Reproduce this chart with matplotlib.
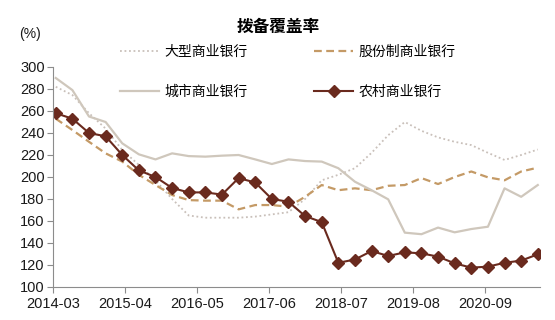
import matplotlib
matplotlib.use("Agg")
import matplotlib.pyplot as plt
import numpy as np

plt.rcParams['font.family'] = ['Liberation Sans', 'Noto Sans CJK SC', 'DejaVu Sans']

tick_labels = ["2014-03", "2015-04", "2016-05", "2017-06", "2018-07", "2019-08", "2020-09"]
series_names = ["大型商业银行", "股份制商业银行", "城市商业银行", "农村商业银行"]

large_banks = [282, 274.5, 258, 244, 224.5, 211, 197, 180, 165, 163, 163, 163, 164, 166, 168,
               180, 197, 202, 208, 222, 238, 250, 242, 236, 232, 229, 222, 215.5, 220, 225]
joint_stock = [253, 242.7, 232, 221.5, 214, 202, 192.7, 183.6, 179, 178.5, 178.5, 170.6, 174.5, 174.5, 173,
               182, 192.7, 188, 189.7, 188, 192, 192.7, 199, 193.6, 200, 205, 199.7, 197, 205, 208.5]
city_banks = [290, 279, 255, 250, 230.6, 220.6, 216, 221.5, 219, 218.5, 219.4, 220, 216, 211.8, 216,
              214.5, 214, 208, 195.7, 188, 179.7, 149.4, 148, 154, 149.7, 152.7, 154.8, 189.7, 182, 192.7]
rural_banks = [258, 253, 240, 237, 220, 206, 200, 190, 186, 186, 184, 199, 195, 180, 177.5,
               164.5, 159, 122, 125, 132.7, 128.2, 131.5, 130.6, 127.6, 121.5, 117.6, 118.5, 122, 124, 129.7]

# quarterly points, month offsets from 2014-03
x = np.arange(len(rural_banks)) * 3 + 0.5
tick_pos = np.arange(len(tick_labels)) * 13

fig = plt.figure(figsize=(5.55, 3.2), dpi=100)
ax = fig.add_axes([53/555, 1-287/320, (540-53)/555, (287-67)/320])

c_large = "#c9c0ba"
c_joint = "#c49a66"
c_city = "#cfc7bc"
c_rural = "#6a2a1e"

l1, = ax.plot(x, large_banks, linestyle=(0, (1, 1.5)), color=c_large, lw=1.3)
l2, = ax.plot(x, joint_stock, linestyle=(0, (3.5, 2)), color=c_joint, lw=1.6)
l3, = ax.plot(x, city_banks, linestyle='-', color=c_city, lw=1.6)
l4, = ax.plot(x, rural_banks, linestyle='-', color=c_rural, lw=1.5,
              marker='D', markersize=6.3, markerfacecolor=c_rural, markeredgecolor=c_rural)

ax.set_xlim(0, 87.9)
ax.set_ylim(100, 300)
ax.set_yticks(np.arange(100, 301, 20))
ax.set_xticks(tick_pos)
ax.set_xticklabels(tick_labels)

for s in ['top', 'right']:
    ax.spines[s].set_visible(False)
for s in ['left', 'bottom']:
    ax.spines[s].set_color('#8c8c8c')
    ax.spines[s].set_linewidth(0.8)
ax.tick_params(axis='both', direction='out', length=4, width=0.8, color='#8c8c8c',
               labelsize=10.5, labelcolor='#1a1a1a')
ax.tick_params(axis='x', pad=3)
ax.tick_params(axis='y', pad=2)

fig.text(278/555, 1-27/320, "拨备覆盖率", ha='center', va='center', fontsize=12,
         fontweight='bold', family=['Noto Sans CJK SC'])
fig.text(30/555, 1-34/320, "(%)", ha='center', va='center', fontsize=10, color='#1a1a1a')

# legend filled column-wise: order so rows read large/joint, city/rural
leg = fig.legend([l1, l3, l2, l4],
                 [series_names[0], series_names[2], series_names[1], series_names[3]],
                 ncol=2, loc='center',
                 bbox_to_anchor=(288/555, 1-72/320), frameon=False,
                 prop={'family': ['Noto Sans CJK SC'], 'size': 10},
                 handlelength=2.8, columnspacing=4.8, labelspacing=1.9, handletextpad=0.4)

fig.savefig("out.png", dpi=100)
